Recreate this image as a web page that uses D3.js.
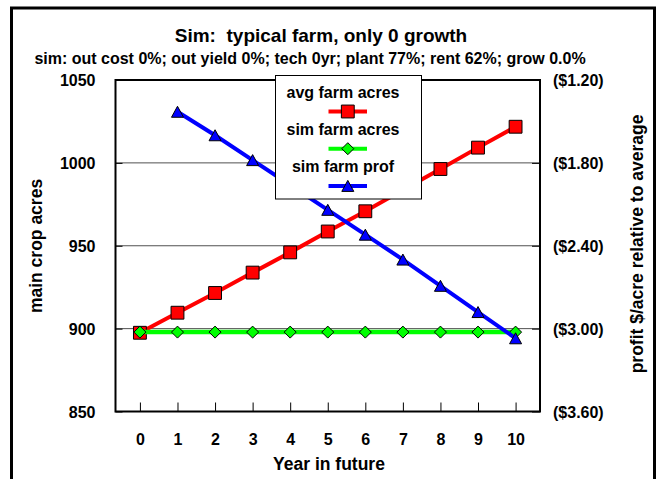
<!DOCTYPE html>
<html>
<head>
<meta charset="utf-8">
<script src="https://cdn.jsdelivr.net/npm/d3@7/dist/d3.min.js"></script>
<style>
  html, body { margin: 0; padding: 0; background: #fff; }
  svg { display: block; }
  text { font-family: Arial, "Liberation Sans", sans-serif; font-weight: bold; fill: #000; white-space: pre; }
</style>
</head>
<body>
<svg id="chart" width="657" height="479"></svg>
<script>
// Years in the future (x categories)
const years = [0, 1, 2, 3, 4, 5, 6, 7, 8, 9, 10];

// Left axis series (main crop acres)
const avgFarmAcres = [897.5, 909.6, 921.5, 933.8, 946.0, 958.6, 970.8, 983.6, 996.3, 1009.2, 1021.8];
const simFarmAcres = [897.9, 897.9, 897.9, 897.9, 897.9, 897.9, 897.9, 897.9, 897.9, 897.9, 897.9];

// Right axis series (profit $/acre relative to average), starts at year 1
const simFarmProfYears = [1, 2, 3, 4, 5, 6, 7, 8, 9, 10];
const simFarmProf = [-1.43, -1.60, -1.78, -1.96, -2.14, -2.32, -2.50, -2.69, -2.88, -3.07];

// Axis ticks
const leftTicks = [850, 900, 950, 1000, 1050];
const rightTicks = [-3.6, -3.0, -2.4, -1.8, -1.2];

// Text
const titleText = "Sim:  typical farm, only 0 growth";
const subtitleText = "sim: out cost 0%; out yield 0%; tech 0yr; plant 77%; rent 62%; grow 0.0%";
const xTitle = "Year in future";
const yLeftTitle = "main crop acres";
const yRightTitle = "profit $/acre relative to average";
const legendNames = ["avg farm acres", "sim farm acres", "sim farm prof"];

const svg = d3.select("#chart");
const plot = { left: 115.5, right: 540, top: 80, bottom: 411.5 };

const x = d3.scaleLinear().domain([-0.65, 10.65]).range([plot.left, plot.right]);
const yL = d3.scaleLinear().domain([850, 1050]).range([plot.bottom, plot.top]);
const yR = d3.scaleLinear().domain([-3.6, -1.2]).range([plot.bottom, plot.top]);

// Outer frame
svg.append("rect")
  .attr("x", 11.5).attr("y", 8).attr("width", 643).attr("height", 490)
  .attr("fill", "none").attr("stroke", "#000").attr("stroke-width", 3);

// Titles
svg.append("text").attr("x", 321).attr("y", 42).attr("text-anchor", "middle")
  .attr("xml:space", "preserve")
  .style("font-size", "19px").text(titleText);
svg.append("text").attr("x", 310).attr("y", 64).attr("text-anchor", "middle")
  .style("font-size", "16px").text(subtitleText);

// Gridlines
svg.append("g").selectAll("line").data(leftTicks.slice(1, -1)).join("line")
  .attr("x1", plot.left).attr("x2", plot.right)
  .attr("y1", d => yL(d)).attr("y2", d => yL(d))
  .attr("stroke", "#505050").attr("stroke-width", 1);

// Left axis (ticks inside, labels on the left)
const leftAxis = d3.axisLeft(yL).tickValues(leftTicks).tickSizeInner(-7).tickSizeOuter(0).tickPadding(20).tickFormat(d3.format("d"));
const gL = svg.append("g").attr("transform", `translate(${plot.left},0)`).call(leftAxis);
gL.select(".domain").remove();
gL.selectAll("text").style("font-size", "16px").attr("x", -20).attr("dy", "0.35em");

// Right axis
const rightAxis = d3.axisRight(yR).tickValues(rightTicks).tickSizeInner(-8).tickSizeOuter(0).tickPadding(13)
  .tickFormat(d => "($" + Math.abs(d).toFixed(2) + ")");
const gR = svg.append("g").attr("transform", `translate(${plot.right},0)`).call(rightAxis);
gR.select(".domain").remove();
gR.selectAll("text").style("font-size", "16px").attr("x", 13).attr("dy", "0.35em");

// Bottom axis
const bottomAxis = d3.axisBottom(x).tickValues(years).tickSizeInner(-9).tickSizeOuter(0).tickPadding(20).tickFormat(d3.format("d"));
const gB = svg.append("g").attr("transform", `translate(0,${plot.bottom})`).call(bottomAxis);
gB.select(".domain").remove();
gB.selectAll("text").style("font-size", "16px").attr("y", 22).attr("dy", "0.71em");
svg.selectAll(".tick line").attr("stroke", "#000");

// Plot border
svg.append("rect")
  .attr("x", plot.left).attr("y", plot.top)
  .attr("width", plot.right - plot.left).attr("height", plot.bottom - plot.top)
  .attr("fill", "none").attr("stroke", "#000").attr("stroke-width", 2);

// Axis titles
svg.append("text").attr("x", 329).attr("y", 469.5).attr("text-anchor", "middle")
  .style("font-size", "17.5px").text(xTitle);
svg.append("text").attr("transform", "translate(36,246) rotate(-90)").attr("dy", "0.35em")
  .attr("text-anchor", "middle").style("font-size", "17.5px").text(yLeftTitle);
svg.append("text").attr("transform", "translate(637,244) rotate(-90)").attr("dy", "0.35em")
  .attr("text-anchor", "middle").style("font-size", "17.5px").text(yRightTitle);

// Marker shapes
const square = d3.symbol().type(d3.symbolSquare).size(165);
const diamond = (s) => `M0,${-s}L${s},0L0,${s}L${-s},0Z`;
const triangle = (w, h) => `M0,${-h / 2}L${w / 2},${h / 2}L${-w / 2},${h / 2}Z`;

const red = "#FF0000", green = "#00FF00", blue = "#0000FF";

// avg farm acres
const redData = years.map((yr, i) => [yr, avgFarmAcres[i]]);
svg.append("path").datum(redData)
  .attr("fill", "none").attr("stroke", red).attr("stroke-width", 4)
  .attr("d", d3.line().x(d => x(d[0])).y(d => yL(d[1])));
svg.append("g").selectAll("path").data(redData).join("path")
  .attr("transform", d => `translate(${x(d[0])},${yL(d[1])})`)
  .attr("d", square()).attr("fill", red).attr("stroke", "#000").attr("stroke-width", 1);

// sim farm acres
const greenData = years.map((yr, i) => [yr, simFarmAcres[i]]);
svg.append("path").datum(greenData)
  .attr("fill", "none").attr("stroke", green).attr("stroke-width", 4.5)
  .attr("d", d3.line().x(d => x(d[0])).y(d => yL(d[1])));
svg.append("g").selectAll("path").data(greenData).join("path")
  .attr("transform", d => `translate(${x(d[0])},${yL(d[1])})`)
  .attr("d", diamond(6)).attr("fill", green).attr("stroke", "#000").attr("stroke-width", 1);

// sim farm prof
const blueData = simFarmProfYears.map((yr, i) => [yr, simFarmProf[i]]);
svg.append("path").datum(blueData)
  .attr("fill", "none").attr("stroke", blue).attr("stroke-width", 4)
  .attr("d", d3.line().x(d => x(d[0])).y(d => yR(d[1])));
svg.append("g").selectAll("path").data(blueData).join("path")
  .attr("transform", d => `translate(${x(d[0])},${yR(d[1])})`)
  .attr("d", triangle(12, 11)).attr("fill", blue).attr("stroke", "#000").attr("stroke-width", 1);

// Legend
const legend = svg.append("g");
legend.append("rect").attr("x", 275.5).attr("y", 75.5).attr("width", 146).attr("height", 123.5)
  .attr("fill", "#fff").attr("stroke", "#000").attr("stroke-width", 1);
const legendColors = [red, green, blue];
const legendMarkers = [square(), diamond(6), triangle(12, 11)];
legendNames.forEach((name, i) => {
  const base = 97.5 + i * 37.2;
  legend.append("text").attr("x", 343).attr("y", base).attr("text-anchor", "middle")
    .style("font-size", "16px").text(name);
  const ly = base + 14;
  legend.append("line").attr("x1", 328.5).attr("x2", 367).attr("y1", ly).attr("y2", ly)
    .attr("stroke", legendColors[i]).attr("stroke-width", 4);
  legend.append("path").attr("transform", `translate(347.8,${ly})`)
    .attr("d", legendMarkers[i]).attr("fill", legendColors[i]).attr("stroke", "#000").attr("stroke-width", 1);
});
</script>
</body>
</html>
